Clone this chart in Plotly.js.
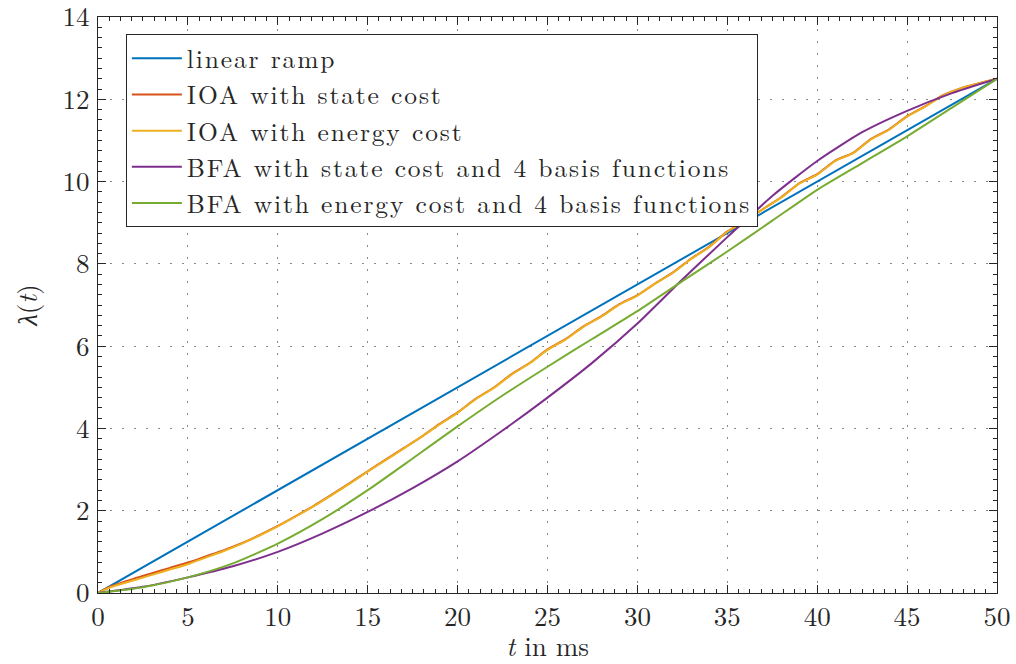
<!DOCTYPE html>
<html>
<head>
<meta charset="utf-8">
<script src="https://cdn.plot.ly/plotly-3.0.1.min.js"></script>
<style>
html,body{margin:0;padding:0;background:#fff;}
.legendtext{letter-spacing:1.85px;}
</style>
</head>
<body>
<div id="chart" style="width:1016px;height:664px;"></div>
<script>
// ---- data ----
const seriesNames = [
  "linear ramp",
  "IOA with state cost",
  "IOA with energy cost",
  "BFA with state cost and 4 basis functions",
  "BFA with energy cost and 4 basis functions"
];

const rampT = [0, 50];
const rampY = [0, 12.5];

const ioaStateT = [0, 0.7, 2, 3, 4, 5, 6, 7, 8, 9, 10, 11, 12, 13, 14, 15, 16, 17, 18, 19, 20,
  21, 22, 23, 24, 25, 26, 27, 28, 29, 30, 31, 32, 33, 34, 35, 36, 37, 38, 39, 40,
  41, 42, 43, 44, 45, 46, 47, 48, 49, 50];
const ioaStateY = [0, 0.16, 0.35, 0.48, 0.61, 0.74, 0.89, 1.04, 1.21, 1.41, 1.63, 1.87, 2.12, 2.39, 2.67, 2.96, 3.24, 3.52, 3.8, 4.11, 4.39,
  4.72, 4.99, 5.32, 5.59, 5.92, 6.17, 6.48, 6.73, 7.02, 7.24, 7.53, 7.8, 8.13, 8.42, 8.79, 9.05, 9.34, 9.62, 9.96, 10.18,
  10.51, 10.7, 11.04, 11.27, 11.59, 11.83, 12.1, 12.27, 12.39, 12.5];

const ioaEnergyT = [0, 0.7, 2, 3, 4, 5, 6, 7, 8, 9, 10, 11, 12, 13, 14, 15, 16, 17, 18, 19, 20,
  21, 22, 23, 24, 25, 26, 27, 28, 29, 30, 31, 32, 33, 34, 35, 36, 37, 38, 39, 40,
  41, 42, 43, 44, 45, 46, 47, 48, 49, 50];
const ioaEnergyY = [0, 0.14, 0.31, 0.44, 0.57, 0.7, 0.86, 1.02, 1.2, 1.4, 1.62, 1.86, 2.11, 2.38, 2.66, 2.95, 3.23, 3.51, 3.8, 4.1, 4.38,
  4.71, 4.98, 5.31, 5.58, 5.91, 6.16, 6.47, 6.72, 7.01, 7.23, 7.52, 7.79, 8.12, 8.41, 8.78, 9.04, 9.33, 9.61, 9.95, 10.17,
  10.5, 10.69, 11.03, 11.26, 11.58, 11.82, 12.09, 12.27, 12.39, 12.5];

const bfaStateT = [0, 2.5, 5, 7.5, 10, 12.5, 15, 17.5, 20, 22.5, 25, 27.5, 30, 32.5, 35, 37.5, 40, 42.5, 45, 47.5, 50];
const bfaStateY = [0, 0.15, 0.38, 0.65, 1.0, 1.45, 1.97, 2.55, 3.2, 3.95, 4.75, 5.6, 6.55, 7.62, 8.65, 9.65, 10.5, 11.2, 11.72, 12.15, 12.5];

const bfaEnergyT = [0, 2.5, 5, 7.5, 10, 12.5, 15, 17.5, 20, 22.5, 25, 27.5, 30, 32.5, 35, 37.5, 40, 42.5, 45, 47.5, 50];
const bfaEnergyY = [0, 0.14, 0.38, 0.72, 1.2, 1.8, 2.5, 3.27, 4.05, 4.8, 5.5, 6.18, 6.85, 7.58, 8.3, 9.05, 9.8, 10.45, 11.1, 11.8, 12.5];

const xTicks = [0, 5, 10, 15, 20, 25, 30, 35, 40, 45, 50];
const yTicks = [0, 2, 4, 6, 8, 10, 12, 14];

// ---- styling ----
const colors = ["#0072BD", "#D95319", "#EDB120", "#7E2F8E", "#77AC30"];
const serif = "Latin Modern Roman";

const xs = [rampT, ioaStateT, ioaEnergyT, bfaStateT, bfaEnergyT];
const ys = [rampY, ioaStateY, ioaEnergyY, bfaStateY, bfaEnergyY];

const traces = seriesNames.map((name, i) => ({
  type: "scatter",
  mode: "lines",
  name: name,
  x: xs[i],
  y: ys[i],
  line: {color: colors[i], width: 2, shape: (i === 0 ? "linear" : "spline"), smoothing: 0.6}
}));

const axisCommon = {
  showline: true,
  linecolor: "#262626",
  linewidth: 1,
  mirror: "ticks",
  ticks: "inside",
  ticklen: 8,
  tickwidth: 1,
  tickcolor: "#262626",
  zeroline: false,
  showgrid: true,
  gridcolor: "#8a8a8a",
  gridwidth: 1,
  griddash: "1.5px,10.5px",
  tickfont: {family: serif, size: 27, color: "#262626"},
  ticklabeloverflow: "allow",
  fixedrange: true
};

const layout = {
  width: 1016,
  height: 664,
  margin: {l: 98, r: 19, t: 17, b: 71},
  paper_bgcolor: "#ffffff",
  plot_bgcolor: "#ffffff",
  showlegend: true,
  font: {family: serif, color: "#262626"},
  xaxis: Object.assign({}, axisCommon, {
    range: [0, 50],
    tickmode: "array",
    tickvals: xTicks,
    ticktext: xTicks.map(String),
    ticklabelstandoff: 0,
    minor: {ticks: "inside", ticklen: 4, dtick: 0.625, tick0: 0, tickcolor: "#262626", showgrid: false},
    title: {text: "<i>t</i> in ms", font: {family: serif, size: 27, color: "#262626"}, standoff: 22}
  }),
  yaxis: Object.assign({}, axisCommon, {
    range: [0, 14.001],
    tickmode: "array",
    tickvals: yTicks,
    ticktext: yTicks.map(String),
    ticklabelstandoff: 2,
    minor: {ticks: "inside", ticklen: 4, dtick: 0.25, tick0: 0, tickcolor: "#262626", showgrid: false},
    title: {text: "<i>λ</i>(<i>t</i>)", font: {family: serif, size: 27, color: "#262626"}, standoff: 17}
  }),
  legend: {
    x: 0.031,
    y: 0.97,
    xanchor: "left",
    yanchor: "top",
    bgcolor: "#ffffff",
    bordercolor: "#262626",
    borderwidth: 1,
    itemwidth: 50,
    font: {family: serif, size: 25.5, color: "#262626"},
    tracegroupgap: 0
  }
};

Plotly.newPlot("chart", traces, layout, {staticPlot: true, displayModeBar: false});
</script>
</body>
</html>
